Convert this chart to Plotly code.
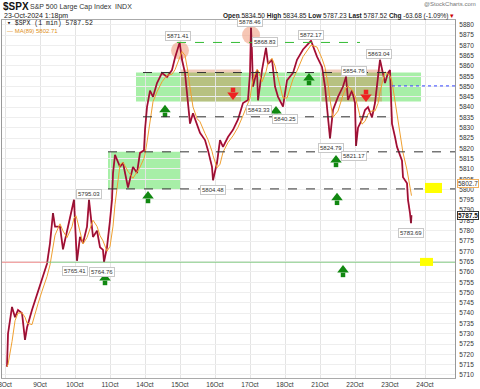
import numpy as np
import plotly.graph_objects as go

# ---------------- data ----------------
day_labels = ["8Oct", "9Oct", "10Oct", "11Oct", "14Oct", "15Oct", "16Oct",
              "17Oct", "18Oct", "21Oct", "22Oct", "23Oct", "24Oct"]
y_ticks = list(range(5710, 5881, 5))

# session time (trading days since the 8-Oct open) and price readings
session_t = [0.057, 0.086, 0.2, 0.286, 0.371, 0.486, 0.571, 0.629, 0.771, 0.857, 0.943,
             1.057, 1.2, 1.286, 1.371, 1.429, 1.571, 1.657, 1.771, 1.914, 1.971,
             2.029, 2.057, 2.143, 2.229, 2.343, 2.4, 2.514, 2.629, 2.714, 2.8, 2.829, 2.914, 3.0, 3.057,
             3.086, 3.143, 3.286, 3.371, 3.514, 3.657, 3.771, 3.857, 3.971,
             4.0, 4.057, 4.143, 4.229, 4.343, 4.486, 4.629, 4.771, 4.857, 4.99,
             5.057, 5.143, 5.229, 5.286, 5.371, 5.486, 5.571, 5.714, 5.8, 5.914, 5.943,
             6.057, 6.143, 6.229, 6.371, 6.514, 6.657, 6.8, 6.943,
             7.0, 7.029, 7.057, 7.086, 7.2, 7.229, 7.343, 7.457, 7.514, 7.629, 7.714, 7.8, 7.943,
             8.057, 8.229, 8.343, 8.514, 8.743, 8.914, 9.057,
             9.143, 9.229, 9.286, 9.371, 9.514, 9.657, 9.743, 9.8, 9.914, 10.0,
             10.029, 10.086, 10.2, 10.286, 10.371, 10.486, 10.571, 10.657, 10.714, 10.857, 10.943, 11.0,
             11.057, 11.143, 11.2, 11.343, 11.371, 11.486, 11.514, 11.571, 11.6, 11.614]
price = [5714, 5730, 5743, 5738, 5741.5, 5740, 5727, 5733, 5741.5, 5746, 5751,
         5756, 5764, 5774, 5788.6, 5782, 5782, 5771, 5780, 5790, 5795,
         5774, 5765.4, 5777, 5774, 5782, 5795, 5777, 5780, 5772, 5770.7, 5764.8, 5772, 5785, 5795,
         5808, 5816.8, 5811, 5813, 5801, 5811, 5808, 5817.8, 5819,
         5829, 5840, 5848, 5845, 5851.7, 5856.6, 5854.7, 5858, 5864, 5871.4,
         5863, 5856.6, 5840, 5832, 5837, 5832, 5827.5, 5824, 5819, 5811, 5804.5,
         5813, 5824, 5820.7, 5825.5, 5829, 5834, 5842, 5843.5,
         5856.6, 5878.5, 5866, 5850, 5858, 5843.3, 5858, 5868.8, 5861, 5863, 5850, 5845, 5840.3,
         5853, 5856.6, 5863, 5868, 5872.2, 5864.5, 5859.5,
         5850, 5834, 5824.8, 5838.6, 5845, 5850, 5854.8, 5843.5, 5848, 5842,
         5821.2, 5830, 5834, 5838.6, 5840, 5835, 5842, 5854.7, 5863, 5851.7, 5856.6, 5858,
         5832, 5825.5, 5820.7, 5814, 5806, 5803, 5795, 5788.6, 5783.7, 5787.5]

# labelled highs / lows
label_t = [4.943, 7.0, 7.43, 8.743, 10.686, 9.97, 7.257, 8.0, 9.314, 9.97, 5.93, 2.4, 2.0, 2.757, 11.6]
label_p = [5871.41, 5878.46, 5868.83, 5872.17, 5863.04, 5854.76, 5843.33, 5840.25,
           5824.79, 5821.17, 5804.48, 5795.03, 5765.41, 5764.76, 5783.69]
label_side = ["hi", "hi", "hi", "hi", "hi", "hi", "lo", "lo", "lo", "lo", "lo", "hi", "lo", "lo", "lo"]

# zones (t0, t1, p0, p1)
green_zones = [(2.943, 5.029, 5800.3, 5818.3), (3.743, 11.886, 5842.7, 5856.8)]
salmon_zones = [(5.029, 6.743, 5842.7, 5858.3), (9.057, 10.771, 5842.7, 5858.3)]
# dashed levels (t0, t1, price)
black_levels = [(3.943, 11.057, 5856.8), (3.943, 11.057, 5835.3),
                (2.943, 12.857, 5818.3), (2.943, 12.857, 5800.3)]
green_level = (4.914, 10.143, 5871.4)
blue_level = (11.057, 12.857, 5850.3)
support_level = 5764.7
support_split_t = 1.2
yellow_marks = [(12.0, 12.486, 5798.3, 5803.2), (11.857, 12.229, 5762.9, 5766.8)]
circle_t = [5.0, 7.03]
circle_p = [5867.5, 5875.0]
up_t = [2.857, 4.086, 4.571, 7.743, 8.686, 9.457, 9.486, 9.657]
up_p = [5756.1, 5795.9, 5837.7, 5837.2, 5853.2, 5813.4, 5795.0, 5760.0]
down_t = [6.514, 10.314]
down_p = [5846.9, 5845.9]
last_price = 5787.52
ma_last = 5802.71

# ---------------- layout geometry ----------------
W, H = 480, 389
L, R, T, B = 2, 455, 20, 378
X_RANGE = [-0.086, 12.857]
Y_RANGE = [5708.5, 5882.3]


def px(x):
    return (x - L) / (R - L)


def py(y):
    return (B - y) / (B - T)


# MA(89) of the readings: time-average of the price path over the trailing 89 minutes
t_arr = np.array(session_t)
p_arr = np.array(price)
w = 89 / 390.0
grid = np.arange(t_arr[0] - w, t_arr[-1] + 1e-9, 1 / 390.0)
pg = np.interp(grid, t_arr, p_arr)
ma = []
for tt in t_arr:
    m = (grid > tt - w) & (grid <= tt)
    ma.append(pg[m].mean())

fig = go.Figure()

# zones
for (t0, t1, p0, p1) in green_zones:
    fig.add_shape(type="rect", x0=t0, x1=t1, y0=p0, y1=p1, line_width=0,
                  fillcolor="rgba(60,220,60,0.45)", layer="below")
for (t0, t1, p0, p1) in salmon_zones:
    fig.add_shape(type="rect", x0=t0, x1=t1, y0=p0, y1=p1, line_width=0,
                  fillcolor="rgba(215,110,60,0.35)", layer="below")

for (t0, t1, p) in black_levels:
    fig.add_shape(type="line", x0=t0, x1=t1, y0=p, y1=p,
                  line=dict(color="#333333", width=1, dash="dash"))
fig.add_shape(type="line", x0=green_level[0], x1=green_level[1], y0=green_level[2], y1=green_level[2],
              line=dict(color="#33bb33", width=1, dash="dash"))
fig.add_shape(type="line", x0=blue_level[0], x1=blue_level[1], y0=blue_level[2], y1=blue_level[2],
              line=dict(color="#3344ff", width=1, dash="dot"))
fig.add_shape(type="line", x0=X_RANGE[0], x1=support_split_t, y0=support_level, y1=support_level,
              line=dict(color="#ee8888", width=1.2))
fig.add_shape(type="line", x0=support_split_t, x1=X_RANGE[1], y0=support_level, y1=support_level,
              line=dict(color="#88cc88", width=1.2))
for (t0, t1, p0, p1) in yellow_marks:
    fig.add_shape(type="rect", x0=t0, x1=t1, y0=p0, y1=p1, line_width=0, fillcolor="#ffff00")

# circles
fig.add_trace(go.Scatter(x=circle_t, y=circle_p, mode="markers",
                         marker=dict(size=18, color="rgba(240,160,130,0.6)", line_width=0),
                         hoverinfo="skip", showlegend=False))

# price & MA
fig.add_trace(go.Scatter(x=session_t, y=price, mode="lines",
                         line=dict(color="#cc1040", width=1.8), showlegend=False))
fig.add_trace(go.Scatter(x=session_t, y=price, mode="lines",
                         line=dict(color="#222222", width=0.4), showlegend=False))
fig.add_trace(go.Scatter(x=session_t, y=ma, mode="lines",
                         line=dict(color="#f0a030", width=1), showlegend=False))

# arrows (head + stem)
px_per_pt = (B - T) / (Y_RANGE[1] - Y_RANGE[0])
up_head = [p + 2 / px_per_pt for p in up_p]
up_stem = [p - 3 / px_per_pt for p in up_p]
dn_head = [p - 2 / px_per_pt for p in down_p]
dn_stem = [p + 3 / px_per_pt for p in down_p]
fig.add_trace(go.Scatter(x=up_t, y=up_stem, mode="markers",
                         marker=dict(symbol="square", size=4.5, color="#118811"), showlegend=False))
fig.add_trace(go.Scatter(x=up_t, y=up_head, mode="markers",
                         marker=dict(symbol="triangle-up", size=10, color="#118811"), showlegend=False))
fig.add_trace(go.Scatter(x=down_t, y=dn_stem, mode="markers",
                         marker=dict(symbol="square", size=4.5, color="#ee2222"), showlegend=False))
fig.add_trace(go.Scatter(x=down_t, y=dn_head, mode="markers",
                         marker=dict(symbol="triangle-down", size=10, color="#ee2222"), showlegend=False))

FONT = "Liberation Sans, Arial, sans-serif"

# high / low labels
for t, p, s in zip(label_t, label_p, label_side):
    hi = s == "hi"
    fig.add_annotation(x=t, y=p, text=f"{p:.2f}", showarrow=False,
                       yanchor="bottom" if hi else "top",
                       yshift=1 if hi else (-7 if p == 5840.25 else -5),
                       font=dict(size=6, color="#333333", family=FONT),
                       bgcolor="white", bordercolor="#c8c8c8", borderwidth=1, borderpad=1)

# header
fig.add_annotation(xref="paper", yref="paper", x=px(1), y=py(7), xanchor="left", yanchor="middle",
                   text="<b>$SPX</b>", showarrow=False, font=dict(size=10, color="#111", family=FONT))
fig.add_annotation(xref="paper", yref="paper", x=px(28), y=py(7), xanchor="left", yanchor="middle",
                   text="S&P 500 Large Cap Index  INDX", showarrow=False,
                   font=dict(size=7, color="#333", family=FONT))
fig.add_annotation(xref="paper", yref="paper", x=px(2), y=py(15.5), xanchor="left", yanchor="middle",
                   text="23-Oct-2024 1:18pm", showarrow=False, font=dict(size=7, color="#222", family=FONT))
fig.add_annotation(xref="paper", yref="paper", x=px(478), y=py(4), xanchor="right", yanchor="middle",
                   text="@StockCharts.com", showarrow=False, font=dict(size=6, color="#777", family=FONT))
fig.add_annotation(xref="paper", yref="paper", x=px(456), y=py(15.5), xanchor="right", yanchor="middle",
                   text="<b>Open</b> 5834.50 <b>High</b> 5834.85 <b>Low</b> 5787.23 <b>Last</b> 5787.52 "
                        "<b>Chg</b> -63.68 (-1.09%) <span style='color:#cc0000'>▾</span>",
                   showarrow=False, font=dict(size=6.5, color="#222", family=FONT))
fig.add_annotation(xref="paper", yref="paper", x=px(5), y=py(24), xanchor="left", yanchor="middle",
                   text=f"▾ $SPX (1 min) {last_price:.2f}", showarrow=False,
                   font=dict(size=6.5, color="#222", family="Liberation Mono, monospace"))
fig.add_annotation(xref="paper", yref="paper", x=px(5), y=py(31), xanchor="left", yanchor="middle",
                   text=f"— MA(89) {ma_last:.2f}", showarrow=False,
                   font=dict(size=6, color="#e09020", family=FONT))

# right-axis value tags
fig.add_annotation(xref="paper", x=px(457), y=ma_last, xanchor="left", yanchor="middle",
                   text=f"{ma_last:.1f}", showarrow=False, bgcolor="white",
                   bordercolor="#f0b060", borderwidth=1, borderpad=0,
                   font=dict(size=6.5, color="#333", family=FONT))
fig.add_annotation(xref="paper", x=px(457), y=last_price, xanchor="left", yanchor="middle",
                   text=f"<b>{last_price:.1f}</b>", showarrow=False, bgcolor="white",
                   bordercolor="#333", borderwidth=1, borderpad=0,
                   font=dict(size=6.5, color="#111", family=FONT))

fig.update_layout(
    width=W, height=H,
    margin=dict(l=L, r=W - R, t=T, b=H - B, autoexpand=False),
    paper_bgcolor="white", plot_bgcolor="white",
    showlegend=False,
    xaxis=dict(range=X_RANGE, tickmode="array", tickvals=list(range(len(day_labels))),
               ticktext=day_labels, showgrid=True, gridcolor="#e4e4e4", gridwidth=1,
               zeroline=False, showline=True, linecolor="#aaaaaa", mirror=True, automargin=False,
               ticks="", ticklabelstandoff=0, ticklabeloverflow="allow",
               tickfont=dict(size=6.5, color="#333", family=FONT)),
    yaxis=dict(range=Y_RANGE, side="right", tickmode="array", tickvals=y_ticks,
               ticktext=[str(v) for v in y_ticks], showgrid=True, gridcolor="#eeeeee",
               gridwidth=1, zeroline=False, showline=True, linecolor="#999999", mirror=True,
               automargin=False, ticks="", ticklabelstandoff=2, ticklabeloverflow="allow",
               tickfont=dict(size=6.5, color="#333", family=FONT)),
)

fig.write_html("out.html", config={"displayModeBar": False},
               post_script="document.body.style.margin='0';document.body.style.overflow='hidden';")
